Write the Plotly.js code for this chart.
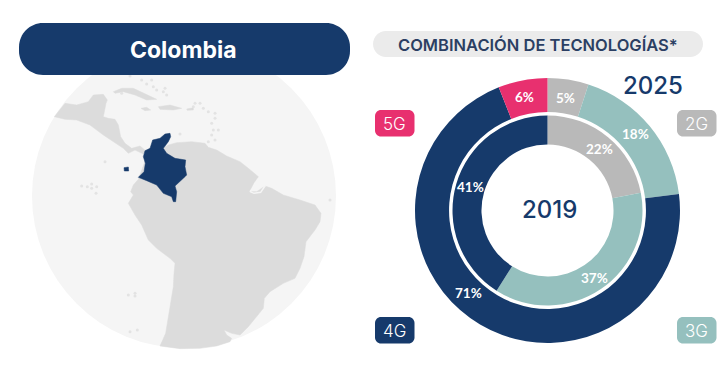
<!DOCTYPE html>
<html><head><meta charset="utf-8">
<script src="https://cdn.plot.ly/plotly-3.0.1.min.js"></script>
<style>html,body{margin:0;padding:0;background:#fff}#c{width:720px;height:376px}</style></head>
<body><div id="c"></div>
<script>
// Donut data
const techs = ['2G','3G','4G','5G'];
const share2025 = [5,18,71,6];
const share2019 = [22,37,41,0];
const techColors = ['#b9b9b9','#95c0be','#163a6b','#e8306f'];
// label anchor positions, in page pixels
const labels2025Pos = [[565,98],[635,134],[468,293],[524,97]];
const labels2019Pos = [[599,149],[594,278],[470,187],null];
const tagPos = [[677,110],[677,317],[375,317],[375,110]];

// Map outlines
const southAmericaX = [505,530,575,615,625,650,680,720,745,775,762,748,770,795,815,850,900,945,963,960,945,918,912,900,885,850,810,793,790,760,745,720,695,672,680,695,690,650,600,540,480,497,505,515,520,522,525,510,470,445,425,405,385,400,392,400,415,440];
const southAmericaY = [255,248,245,250,262,270,288,305,325,350,368,395,395,378,385,405,420,435,460,485,510,545,590,625,655,670,695,715,745,780,800,825,820,810,825,835,845,858,865,866,858,820,770,720,680,640,610,595,565,540,495,465,430,405,395,375,358,290];
const centralAmericaX = [163,195,230,265,280,310,322,318,310,325,345,355,362,375,395,420,437,430,405,385,370,340,310,270,230,195];
const centralAmericaY = [170,130,135,125,105,103,120,130,170,175,178,195,230,250,265,258,272,282,270,280,265,245,225,195,180,178];
const cubaX = [340,365,400,430,470,440,405,370,345];
const cubaY = [95,85,85,100,118,120,105,95,100];
const hispaniolaX = [475,510,545,520,480];
const hispaniolaY = [140,135,145,150,148];
const jamaicaX = [423,440,452,435];
const jamaicaY = [145,142,150,152];
const prX = [560,580,580,562];
const prY = [147,143,150,151];
const colombiaX = [510,495,480,458,450,435,430,436,432,415,440,470,490,515,520,527,530,525,555,560,555,557,525,500,490,505,512];
const colombiaY = [220,222,235,240,265,272,290,310,335,352,362,375,400,410,425,425,395,378,350,345,320,300,295,280,265,245,230];
const islandDotsX = [600,585,610,625,645,645,635,640,655,635,645,625,390,425,455,440,460,490,500,365,315,245,262,275,290,275,288,385,405,390,412,990,540,405,580,470,495];
const islandDotsY = [130,130,145,155,160,175,190,210,210,225,240,245,48,60,60,72,80,95,105,100,305,378,380,372,380,385,400,705,708,815,810,420,222,700,140,90,85];
const amazonChannelX = [750,768,795,782,762,750];
const amazonChannelY = [395,374,378,397,400,395];
const sanAndresX = [372,385,386,373];
const sanAndresY = [323,321,333,333];

const W = 720, H = 376;
// map units are 3 per page pixel, offset 60 px vertically
const mx = p => p*3, my = p => (p-60)*3;
const LAND = '#dcdcdc', DOT = '#e3e3e3', DISC = '#f5f5f5', NAVY = '#163a6b';

function poly(x,y,color){
  return {type:'scatter',mode:'lines',x:x.concat(x[0]),y:y.concat(y[0]),fill:'toself',fillcolor:color,
    line:{color:color,width:0.5},hoverinfo:'skip',showlegend:false};
}
function rr(x0,y0,x1,y1,r,color,layer){
  const X0=mx(x0),X1=mx(x1),Y0=my(y0),Y1=my(y1),R=r*3,k=R*0.45;
  return {type:'path',xref:'x',yref:'y',layer:layer||'above',fillcolor:color,line:{width:0},
    path:`M${X0+R},${Y0} L${X1-R},${Y0} C${X1-k},${Y0} ${X1},${Y0+k} ${X1},${Y0+R} L${X1},${Y1-R} C${X1},${Y1-k} ${X1-k},${Y1} ${X1-R},${Y1} L${X0+R},${Y1} C${X0+k},${Y1} ${X0},${Y1-k} ${X0},${Y1-R} L${X0},${Y0+R} C${X0},${Y0+k} ${X0+k},${Y0} ${X0+R},${Y0} Z`};
}
function donut(vals,cx,cy,r,hole){
  return {type:'pie',values:vals,labels:techs,sort:false,direction:'clockwise',rotation:0,hole:hole,
    marker:{colors:techColors,line:{width:0}},textinfo:'none',hoverinfo:'label+percent',showlegend:false,
    domain:{x:[(cx-r)/W,(cx+r)/W],y:[1-(cy+r)/H,1-(cy-r)/H]}};
}
const traces = [
  poly(southAmericaX,southAmericaY,LAND),
  poly(centralAmericaX,centralAmericaY,LAND),
  poly(cubaX,cubaY,LAND),poly(hispaniolaX,hispaniolaY,LAND),poly(jamaicaX,jamaicaY,LAND),poly(prX,prY,LAND),
  {type:'scatter',mode:'markers',x:islandDotsX,y:islandDotsY,marker:{color:DOT,size:3},hoverinfo:'skip',showlegend:false},
  {type:'scatter',mode:'lines',x:amazonChannelX,y:amazonChannelY,line:{color:DISC,width:1.5},hoverinfo:'skip',showlegend:false},
  poly(colombiaX,colombiaY,NAVY),poly(sanAndresX,sanAndresY,NAVY),
  donut(share2025,547.5,210.5,132.5,0.743),
  donut(share2019,547.5,210.5,95,0.695)
];
const SANS='Inter, "Open Sans", sans-serif';
const NUM='Lato, sans-serif';
function note(x,y,text,size,color,family,weight){
  return {xref:'paper',yref:'paper',x:x/W,y:1-y/H,xanchor:'center',yanchor:'middle',text:text,showarrow:false,
    font:{size:size,color:color,family:family||SANS,weight:weight||400}};
}
const annotations = [
  note(183,50,'Colombia',23,'#ffffff',SANS,700),
  note(538,45,'COMBINACIÓN DE TECNOLOGÍAS*',16.5,'#2b3f63',SANS,600),
  note(652.5,86,'2025',24,'#163a6b',SANS,500),
  note(549.5,210,'2019',24,'#163a6b',SANS,500)
];
share2025.forEach((v,i)=>{annotations.push(note(labels2025Pos[i][0],labels2025Pos[i][1],v+'%',13.5,'#ffffff',NUM,700));});
share2019.forEach((v,i)=>{if(v>0)annotations.push(note(labels2019Pos[i][0],labels2019Pos[i][1],v+'%',13.5,'#ffffff',NUM,700));});
techs.forEach((t,i)=>{annotations.push(note(tagPos[i][0]+19.7,tagPos[i][1]+13.5,t,17,'#ffffff',SANS,300));});
const shapes = [
  {type:'circle',xref:'x',yref:'y',layer:'below',x0:96,x1:1008,y0:-48,y1:864,fillcolor:DISC,line:{width:0}},
  rr(19,23,350,75,24,NAVY),
  rr(373,31,703,57,13,'#ebebeb')
];
techs.forEach((t,i)=>{shapes.push(rr(tagPos[i][0],tagPos[i][1],tagPos[i][0]+39.5,tagPos[i][1]+26.5,6,techColors[i]));});
Plotly.newPlot('c',traces,{
  width:W,height:H,margin:{l:0,r:0,t:0,b:0},paper_bgcolor:'#fff',plot_bgcolor:'rgba(0,0,0,0)',
  xaxis:{range:[0,W*3],visible:false,fixedrange:true},
  yaxis:{range:[my(H),my(0)],visible:false,fixedrange:true},
  shapes:shapes,annotations:annotations,showlegend:false
},{displayModeBar:false,staticPlot:true});
</script></body></html>
